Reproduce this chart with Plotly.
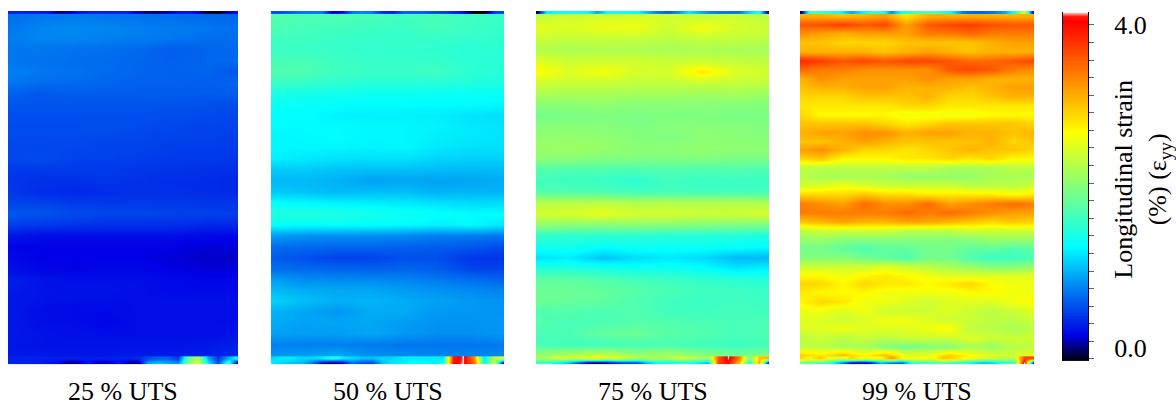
import plotly.graph_objects as go

PANEL_LABELS = ["25 % UTS", "50 % UTS", "75 % UTS", "99 % UTS"]
COLORBAR_TITLE = "Longitudinal strain<br>(%) (ε<sub>yy</sub>)"
ZMIN, ZMAX = -0.16, 4.16

# row / column positions on the specimen (image rows from the top; % of width)
rows_coarse = [6, 17, 28, 39, 50, 61, 72, 83, 94, 105, 116, 127, 138, 149, 160, 171,
               182, 193, 204, 215, 226, 237, 248, 259, 270, 281, 292, 303, 314, 325, 336, 347]
cols_coarse = [0, 14.3, 28.6, 43, 57, 71.4, 85.7, 100]
rows_fine = [5, 14, 23, 32, 41, 50, 59, 68, 77, 86, 95, 104, 113, 122, 131, 140, 149, 158, 167, 176,
             185, 194, 203, 212, 221, 230, 239, 248, 257, 266, 275, 284, 293, 302, 311, 320, 329, 338, 347]
cols_fine = [0, 9.1, 18.2, 27.3, 36.4, 45.5, 54.5, 63.6, 72.7, 81.8, 90.9, 100]
cols_edge = [0, 4.3, 8.7, 13, 17.4, 21.7, 26.1, 30.4, 34.8, 39.1, 43.5, 47.8,
             52.2, 56.5, 60.9, 65.2, 69.6, 73.9, 78.3, 82.6, 87, 91.3, 95.7, 100]
rows_top = [0, 2]
rows_bottom = [350, 354]

p25_body = [
    [.66, .70, .72, .70, .68, .66, .64, .62],
    [.70, .76, .78, .76, .74, .72, .70, .66],
    [.72, .76, .76, .74, .72, .70, .66, .66],
    [.70, .70, .68, .66, .64, .58, .62, .64],
    [.70, .68, .66, .64, .62, .60, .62, .64],
    [.74, .70, .68, .64, .62, .60, .62, .54],
    [.70, .66, .64, .62, .60, .60, .58, .62],
    [.60, .56, .58, .58, .58, .58, .58, .58],
    [.54, .54, .54, .54, .54, .54, .52, .50],
    [.52, .52, .52, .52, .52, .50, .50, .48],
    [.50, .50, .50, .52, .50, .48, .46, .46],
    [.50, .50, .50, .48, .48, .46, .46, .44],
    [.48, .48, .48, .46, .46, .44, .44, .42],
    [.48, .50, .46, .46, .44, .42, .42, .40],
    [.42, .42, .42, .42, .40, .40, .38, .36],
    [.40, .38, .38, .40, .38, .36, .36, .34],
    [.42, .36, .34, .36, .38, .38, .36, .34],
    [.46, .46, .42, .42, .42, .42, .40, .40],
    [.56, .54, .50, .48, .48, .46, .46, .44],
    [.44, .42, .40, .38, .38, .38, .34, .34],
    [.26, .22, .22, .22, .22, .22, .20, .18],
    [.18, .16, .16, .16, .16, .16, .14, .14],
    [.20, .16, .16, .16, .16, .14, .12, .12],
    [.22, .18, .17, .18, .18, .16, .14, .14],
    [.30, .24, .22, .22, .22, .20, .18, .18],
    [.28, .24, .24, .24, .22, .20, .20, .20],
    [.26, .24, .22, .22, .22, .22, .22, .22],
    [.26, .22, .19, .20, .22, .22, .22, .22],
    [.26, .22, .22, .18, .22, .22, .22, .22],
    [.26, .24, .22, .22, .22, .22, .22, .24],
    [.26, .24, .24, .24, .24, .24, .26, .30],
    [.28, .26, .26, .26, .28, .28, .30, .34],
]
p25_top = [.3, .3, .3, .27, .25, .02, .08, .25, .3, .32, .3, .3, .3, .1, .02, .02, .1, .22, .25, .15, -.1, -.14, .1, .25]
p25_bottom_upper = [.3, .3, .3, .3, .3, .3, .3, .3, .3, .3, .3, .3, .3, .35, .5, .6, .6, .4, 1.8, 2.2, .9, .4, .9, 1.4]
p25_bottom_lower = [.35, .3, .3, .3, .25, .2, 0, .05, .25, .1, .1, .25, .05, 0, .9, 1.0, .9, .8, 2.0, 2.5, 1.2, .5, 1.6, -.1]

p50_body = [
    [1.72, 1.68, 1.70, 1.66, 1.62, 1.66, 1.60, 1.58],
    [1.68, 1.66, 1.62, 1.60, 1.58, 1.66, 1.60, 1.56],
    [1.62, 1.60, 1.58, 1.56, 1.56, 1.56, 1.54, 1.52],
    [1.60, 1.58, 1.56, 1.54, 1.54, 1.52, 1.50, 1.50],
    [1.66, 1.66, 1.60, 1.56, 1.56, 1.55, 1.50, 1.48],
    [1.72, 1.70, 1.62, 1.58, 1.58, 1.62, 1.52, 1.48],
    [1.58, 1.56, 1.52, 1.48, 1.48, 1.48, 1.44, 1.42],
    [1.40, 1.38, 1.36, 1.34, 1.34, 1.32, 1.32, 1.30],
    [1.32, 1.30, 1.28, 1.26, 1.26, 1.26, 1.26, 1.24],
    [1.28, 1.27, 1.22, 1.22, 1.22, 1.20, 1.16, 1.14],
    [1.26, 1.26, 1.26, 1.24, 1.24, 1.22, 1.18, 1.16],
    [1.24, 1.25, 1.26, 1.24, 1.24, 1.20, 1.18, 1.16],
    [1.24, 1.24, 1.24, 1.22, 1.24, 1.18, 1.14, 1.14],
    [1.22, 1.18, 1.15, 1.15, 1.15, 1.10, 1.08, 1.08],
    [1.05, 1.05, 1.02, 1.00, 1.00, 1.00, .98, .98],
    [.98, .98, .95, .88, .90, .88, .90, .92],
    [1.05, 1.02, .98, 1.00, 1.00, .94, .96, .96],
    [1.28, 1.25, 1.22, 1.20, 1.18, 1.15, 1.12, 1.12],
    [1.44, 1.46, 1.42, 1.38, 1.34, 1.30, 1.26, 1.28],
    [1.30, 1.28, 1.30, 1.28, 1.26, 1.22, 1.26, 1.18],
    [.86, .82, .80, .80, .78, .74, .72, .70],
    [.66, .64, .62, .62, .60, .58, .56, .50],
    [.58, .52, .46, .46, .52, .52, .40, .40],
    [.66, .64, .62, .60, .62, .58, .46, .46],
    [.86, .80, .78, .78, .76, .72, .66, .62],
    [.98, .92, .90, .90, .86, .82, .78, .74],
    [1.10, 1.00, .94, .96, .92, .88, .84, .82],
    [.95, .90, .84, .92, .92, .84, .84, .82],
    [.92, .88, .90, .90, .86, .82, .82, .84],
    [.88, .86, .86, .90, .84, .80, .80, .84],
    [.74, .74, .74, .72, .70, .70, .70, .72],
    [.82, .86, .92, .80, .78, .76, .76, .78],
]
p50_top = [.5, .5, .6, .7, .7, .7, .1, .2, .7, .75, .7, .35, .3, .6, .6, .6, .5, .45, .35, .2, -.16, -.16, .4, .5]
p50_bottom_upper = [1.1, 1.2, 1.2, 1.1, 1.1, 1.2, 1.4, 1.2, 1.1, 1.0, 1.0, 1.1, 1.1, 1.2, 1.2, 1.2, 1.2, 1.2, 3.9, 4.16, 3.3, 1.2, 2.3, 2.5]
p50_bottom_lower = [1.2, 1.1, 1.0, 1.0, .7, .2, 0, .15, .7, .5, .5, 1.0, 1.2, 1.2, 1.3, 1.3, 1.2, 1.3, 4.0, 4.16, 3.5, 1.3, 2.4, -.15]

p75_body = [
    [2.30, 2.42, 2.42, 2.45, 2.42, 2.35, 2.40, 2.30],
    [2.55, 2.48, 2.58, 2.60, 2.42, 2.62, 2.45, 2.40],
    [2.38, 2.35, 2.36, 2.35, 2.30, 2.36, 2.34, 2.30],
    [2.25, 2.22, 2.24, 2.22, 2.20, 2.22, 2.20, 2.18],
    [2.50, 2.40, 2.40, 2.42, 2.38, 2.38, 2.34, 2.30],
    [2.70, 2.50, 2.64, 2.46, 2.46, 2.80, 2.48, 2.44],
    [2.42, 2.38, 2.38, 2.34, 2.34, 2.38, 2.36, 2.34],
    [2.22, 2.20, 2.20, 2.18, 2.18, 2.15, 2.18, 2.12],
    [2.02, 2.04, 2.06, 2.02, 2.02, 2.02, 2.00, 2.00],
    [1.90, 1.94, 1.96, 1.94, 1.96, 1.96, 1.94, 1.94],
    [2.02, 2.02, 2.02, 1.96, 2.00, 2.02, 2.00, 1.98],
    [2.06, 2.08, 2.06, 2.00, 1.96, 2.04, 2.02, 2.00],
    [2.12, 2.14, 2.10, 2.04, 2.04, 2.08, 2.06, 2.04],
    [2.02, 2.02, 1.98, 1.96, 1.96, 1.98, 1.94, 1.94],
    [1.74, 1.70, 1.70, 1.70, 1.72, 1.70, 1.72, 1.68],
    [1.62, 1.60, 1.58, 1.50, 1.62, 1.58, 1.58, 1.60],
    [1.72, 1.70, 1.68, 1.64, 1.64, 1.64, 1.64, 1.64],
    [2.28, 2.28, 2.30, 2.24, 2.26, 2.24, 2.26, 2.22],
    [2.44, 2.46, 2.56, 2.44, 2.44, 2.40, 2.40, 2.46],
    [2.06, 2.04, 2.02, 2.04, 2.02, 2.00, 1.96, 1.94],
    [1.56, 1.52, 1.50, 1.50, 1.48, 1.48, 1.46, 1.42],
    [1.38, 1.36, 1.30, 1.34, 1.32, 1.32, 1.30, 1.27],
    [1.14, 1.20, 1.02, 1.12, 1.18, 1.12, .98, .98],
    [1.48, 1.46, 1.42, 1.36, 1.36, 1.30, 1.18, 1.24],
    [1.80, 1.78, 1.72, 1.64, 1.60, 1.54, 1.50, 1.46],
    [1.86, 1.84, 1.82, 1.74, 1.68, 1.62, 1.60, 1.58],
    [1.86, 1.84, 1.80, 1.70, 1.62, 1.58, 1.62, 1.58],
    [1.70, 1.72, 1.68, 1.72, 1.62, 1.62, 1.64, 1.62],
    [1.72, 1.66, 1.68, 1.72, 1.72, 1.68, 1.66, 1.68],
    [1.68, 1.68, 1.82, 1.86, 1.76, 1.72, 1.66, 1.70],
    [1.66, 1.62, 1.62, 1.66, 1.66, 1.62, 1.60, 1.64],
    [2.10, 2.26, 2.40, 2.12, 2.22, 2.05, 1.90, 2.00],
]
p75_top = [-.16, 1.2, 1.3, 1.3, 1.4, 1.3, .9, 1.3, 1.4, 1.3, 1.3, 1.0, .7, .6, .8, 1.2, 1.0, .8, .7, .7, .7, 1.1, 1.4, -.16]
p75_bottom_upper = [2.1, 2.2, 2.4, 2.4, 2.4, 2.5, 2.6, 2.4, 2.5, 2.3, 2.2, 2.2, 2.2, 2.2, 2.4, 2.3, 2.2, 2.1, 3.6, 4.16, 3.4, 1.9, 3.0, 3.1]
p75_bottom_lower = [1.6, 1.5, 1.3, 1.1, .6, .1, 0, .1, .4, .5, .5, 1.0, 1.3, 1.3, 1.4, 1.4, 1.2, 1.0, 3.7, 4.0, 3.0, 1.4, 3.2, -.15]

p99_body = [
    [3.1, 3.1, 3.0, 3.1, 3.2, 2.8, 3.1, 3.1, 3.1, 3.1, 3.1, 3.1],
    [3.6, 3.65, 3.75, 3.6, 3.7, 3.2, 3.6, 3.7, 3.75, 3.65, 3.6, 3.6],
    [3.3, 3.2, 3.1, 3.2, 3.2, 3.2, 3.4, 3.4, 3.5, 3.4, 3.4, 3.4],
    [3.0, 3.0, 2.9, 2.9, 2.9, 3.0, 3.0, 3.0, 3.0, 3.1, 3.2, 3.2],
    [3.1, 3.1, 3.1, 3.1, 3.0, 3.1, 3.2, 3.1, 3.0, 3.1, 3.1, 3.1],
    [3.85, 3.75, 3.6, 3.7, 3.6, 3.7, 3.7, 3.6, 3.5, 3.5, 3.6, 3.7],
    [3.5, 3.4, 3.4, 3.3, 3.3, 3.3, 3.3, 3.6, 3.7, 3.6, 3.4, 3.3],
    [3.1, 3.3, 3.2, 3.2, 3.2, 3.2, 3.3, 3.2, 3.2, 3.1, 3.1, 3.1],
    [3.0, 3.1, 3.1, 3.2, 3.2, 3.1, 3.1, 3.1, 3.0, 3.1, 3.2, 3.2],
    [2.9, 2.9, 2.9, 3.0, 3.0, 3.0, 3.1, 2.9, 2.9, 3.0, 3.1, 3.1],
    [2.8, 2.8, 2.8, 2.8, 2.8, 2.9, 2.9, 2.8, 2.8, 2.8, 2.8, 2.8],
    [2.9, 2.7, 2.7, 2.7, 2.7, 2.6, 2.6, 2.6, 2.6, 2.7, 2.7, 2.7],
    [3.0, 3.0, 3.0, 3.0, 2.9, 2.8, 2.9, 3.0, 3.0, 3.0, 3.0, 2.9],
    [3.1, 3.2, 3.2, 3.3, 3.3, 3.1, 3.2, 3.2, 3.1, 3.1, 3.0, 3.1],
    [3.0, 3.0, 3.1, 3.2, 3.1, 3.0, 3.0, 3.0, 3.0, 3.1, 2.9, 3.0],
    [3.2, 3.3, 3.1, 2.9, 2.9, 2.8, 2.9, 3.0, 3.1, 3.0, 3.0, 2.9],
    [2.9, 3.0, 2.7, 2.7, 2.7, 2.8, 2.8, 2.9, 2.8, 2.9, 2.7, 2.7],
    [2.3, 2.3, 2.3, 2.3, 2.3, 2.3, 2.3, 2.2, 2.2, 2.2, 2.3, 2.3],
    [2.3, 2.2, 2.2, 2.2, 2.2, 2.1, 2.1, 2.1, 2.1, 2.2, 2.2, 2.2],
    [2.4, 2.5, 2.6, 2.5, 2.4, 2.4, 2.4, 2.4, 2.3, 2.3, 2.3, 2.4],
    [2.9, 2.9, 2.9, 3.0, 2.9, 2.9, 2.8, 2.8, 2.8, 2.8, 2.7, 2.8],
    [3.4, 3.3, 3.2, 3.5, 3.3, 3.3, 3.5, 3.2, 3.3, 3.4, 3.5, 3.4],
    [3.4, 3.4, 3.4, 3.4, 3.4, 3.5, 3.4, 3.5, 3.4, 3.3, 3.2, 3.2],
    [3.0, 3.1, 3.2, 3.1, 3.1, 3.2, 3.2, 3.1, 3.0, 2.9, 3.0, 2.9],
    [2.3, 2.4, 2.4, 2.4, 2.4, 2.3, 2.3, 2.3, 2.4, 2.4, 2.4, 2.4],
    [2.1, 2.1, 2.0, 2.0, 2.0, 2.0, 2.0, 2.0, 2.0, 2.1, 2.1, 2.1],
    [1.9, 1.9, 1.8, 1.7, 1.8, 1.8, 1.9, 1.9, 1.8, 1.8, 1.7, 1.8],
    [2.0, 2.0, 2.0, 1.9, 1.8, 1.7, 1.9, 1.9, 1.7, 1.6, 1.6, 1.7],
    [2.4, 2.4, 2.4, 2.4, 2.5, 2.4, 2.3, 2.2, 2.1, 2.0, 2.0, 2.1],
    [2.7, 2.7, 2.6, 2.7, 2.8, 2.7, 2.6, 2.5, 2.5, 2.5, 2.5, 2.5],
    [2.9, 2.9, 2.7, 2.9, 2.8, 2.8, 2.7, 2.8, 2.9, 2.7, 2.6, 2.6],
    [2.8, 2.7, 2.7, 2.7, 2.6, 2.6, 2.6, 2.6, 2.7, 2.7, 2.6, 2.6],
    [2.7, 2.9, 2.8, 2.6, 2.6, 2.5, 2.4, 2.5, 2.5, 2.5, 2.6, 2.7],
    [2.6, 2.6, 2.5, 2.6, 2.4, 2.4, 2.4, 2.5, 2.4, 2.3, 2.4, 2.5],
    [2.5, 2.5, 2.4, 2.5, 2.6, 2.6, 2.5, 2.4, 2.4, 2.3, 2.3, 2.4],
    [2.5, 2.5, 2.6, 2.5, 2.5, 2.5, 2.6, 2.7, 2.3, 2.3, 2.2, 2.3],
    [2.3, 2.4, 2.3, 2.4, 2.3, 2.4, 2.4, 2.4, 2.5, 2.4, 2.4, 2.4],
    [2.3, 2.3, 2.2, 2.2, 2.0, 1.9, 2.0, 2.0, 2.2, 2.1, 2.3, 2.3],
    [3.0, 2.8, 3.1, 2.7, 3.1, 2.6, 2.6, 3.0, 2.7, 2.5, 2.4, 2.6],
]
p99_top = [-.16, 1.7, 1.6, 1.5, 1.3, .9, 1.2, 1.5, 1.5, .8, 1.4, 1.6, 1.7, 1.7, 1.5, 1.2, .7, .6, .6, .7, .9, 1.4, 2.5, -.16]
p99_bottom_upper = [2.9, 2.7, 3.0, 2.6, 2.5, 2.9, 2.7, 2.7, 2.7, 3.2, 2.7, 2.6, 2.6, 2.6, 3.0, 2.9, 2.7, 2.6, 2.5, 2.4, 2.3, 2.3, 3.7, 3.7]
p99_bottom_lower = [1.9, 1.8, 1.6, 1.5, .8, .2, .05, .3, 1.0, .7, .6, 1.5, 1.6, 1.7, 1.7, 1.6, 1.5, 1.2, 1.0, 1.1, 1.5, 1.6, 4.16, -.15]

panels = [
    (p25_body, rows_coarse, cols_coarse, p25_top, p25_bottom_upper, p25_bottom_lower),
    (p50_body, rows_coarse, cols_coarse, p50_top, p50_bottom_upper, p50_bottom_lower),
    (p75_body, rows_coarse, cols_coarse, p75_top, p75_bottom_upper, p75_bottom_lower),
    (p99_body, rows_fine, cols_fine, p99_top, p99_bottom_upper, p99_bottom_lower),
]

colorbar_levels = [ZMIN + (ZMAX - ZMIN) * i / 255 for i in range(256)]
colorbar_ticks = [4.0 - 0.2174 * k for k in range(20)]

W, H = 1176, 405
boxes = [(8, 238), (271, 504), (536, 769), (800, 1034)]
TOP, BOTTOM = 10, 366
CB = (1063, 1088, 11, 363)
FONT = "Liberation Serif"
FS = 26

stops = [[0, "#000000"], [.074, "#0000e6"], [.2, "#0078f0"], [.331, "#00ffff"], [.493, "#80ff80"],
         [.657, "#ffff00"], [.82, "#ff8000"], [.975, "#ff0000"], [.99, "#ff2010"], [1, "#ffffff"]]

fig = go.Figure()
layout = dict(
    width=W, height=H, margin=dict(l=0, r=0, t=0, b=0), autosize=False,
    paper_bgcolor="white", plot_bgcolor="white", showlegend=False,
    font=dict(family=FONT, size=FS, color="black"),
    coloraxis=dict(colorscale=stops, cmin=ZMIN, cmax=ZMAX, showscale=False),
)
annotations = []

for i, (body, rows, cols, top, up, low) in enumerate(panels):
    n = i + 1
    x0, x1 = boxes[i]
    ax = dict(showgrid=False, zeroline=False, showticklabels=False, ticks="", showline=False)
    layout[f"xaxis{n}"] = dict(domain=[x0 / W, x1 / W], range=[0, 100], anchor=f"y{n}", **ax)
    layout[f"yaxis{n}"] = dict(domain=[1 - BOTTOM / H, 1 - TOP / H], range=[356, 0], anchor=f"x{n}", **ax)
    common = dict(coloraxis="coloraxis", zsmooth="best", xaxis=f"x{n}", yaxis=f"y{n}", hoverinfo="skip")
    fig.add_trace(go.Heatmap(z=body, x=cols, y=rows, **common))
    fig.add_trace(go.Heatmap(z=[top, top], x=cols_edge, y=rows_top, **common))
    fig.add_trace(go.Heatmap(z=[up, low], x=cols_edge, y=rows_bottom, **common))
    annotations.append(dict(text=PANEL_LABELS[i], xref="paper", yref="paper",
                            x=(x0 + x1) / 2 / W, y=1 - 393 / H, xanchor="center", yanchor="middle",
                            showarrow=False, font=dict(family=FONT, size=FS)))

# colour scale strip on its own axes
fig.add_trace(go.Heatmap(z=[[v, v] for v in colorbar_levels], x=[0, 1], y=colorbar_levels,
                         coloraxis="coloraxis", zsmooth="best", xaxis="x5", yaxis="y5", hoverinfo="skip"))
layout["xaxis5"] = dict(domain=[CB[0] / W, CB[1] / W], range=[0, 1], anchor="y5", showgrid=False,
                        zeroline=False, showticklabels=False, ticks="")
layout["yaxis5"] = dict(
    domain=[1 - CB[3] / H, 1 - CB[2] / H], range=[ZMIN, ZMAX], anchor="x5", side="right",
    showgrid=False, zeroline=False, showline=True, mirror=True, linecolor="black", linewidth=1,
    tickmode="array", tickvals=[0, 4], ticktext=["0.0", "4.0"], ticks="outside", ticklen=20,
    tickcolor="rgba(0,0,0,0)", tickfont=dict(family=FONT, size=FS),
    minor=dict(tickmode="array", tickvals=colorbar_ticks, ticks="outside", ticklen=5,
               tickcolor="#666666", tickwidth=1, showgrid=False),
)
annotations.append(dict(text=COLORBAR_TITLE, xref="paper", yref="paper", x=1142 / W, y=1 - 180 / H,
                        xanchor="center", yanchor="middle", textangle=-90, showarrow=False,
                        align="center", font=dict(family=FONT, size=FS)))

layout["annotations"] = annotations
fig.update_layout(**layout)
fig.write_html("out.html", config={"displayModeBar": False},
               post_script="document.body.style.margin='0';")
